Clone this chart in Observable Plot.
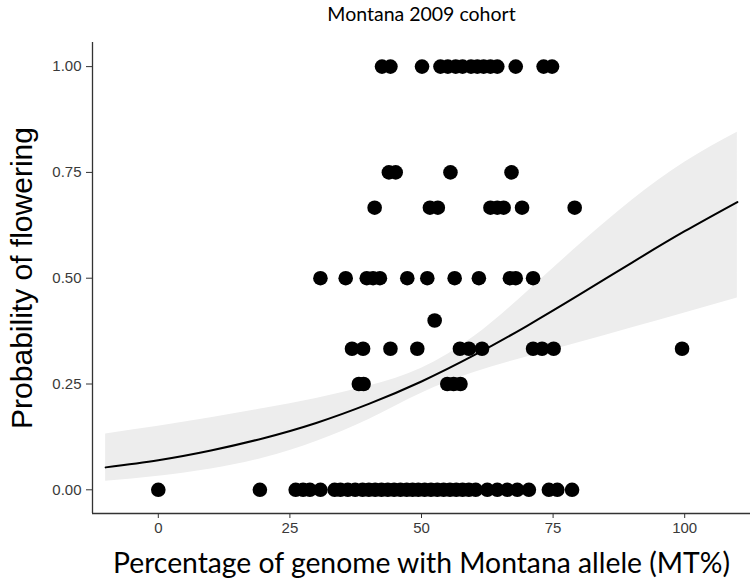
<!DOCTYPE html>
<html>
<head>
<meta charset="utf-8">
<script src="https://cdn.jsdelivr.net/npm/d3@7"></script>
<script src="https://cdn.jsdelivr.net/npm/@observablehq/plot@0.6"></script>
<style>
  body { margin: 0; background: white; }
  #chart g[aria-label$="tick label"], #chart g[aria-label$="tick label"] text { font-size: 15px !important; }
</style>
</head>
<body>
<div id="chart"></div>
<script>
// Observed points: x = MT% for each probability level
const row100 = [42.5, 44.1, 50.1, 53.6, 55.0, 56.5, 57.8, 59.4, 60.6, 61.8, 63.1, 64.4, 67.9, 73.2, 74.8];
const row075 = [43.8, 45.1, 55.5, 67.1];
const row067 = [41.1, 51.6, 53.1, 63.1, 64.4, 65.6, 69.1, 79.1];
const row050 = [30.8, 35.6, 39.6, 40.8, 42.1, 47.3, 51.1, 56.3, 60.9, 66.8, 67.9, 71.2];
const row040 = [52.5];
const row033 = [36.8, 38.9, 44.1, 49.2, 57.3, 59.0, 61.5, 71.2, 72.9, 75.1, 99.5];
const row025 = [38.1, 39.0, 54.9, 56.1, 57.4];
const row000 = [0, 19.3, 26.1, 27.5, 28.8, 30.8, 33.5, 34.6, 36.0, 37.4, 38.8, 40.0, 41.2, 42.4, 43.6, 44.8, 46.0, 47.2, 48.3, 49.4, 50.6, 51.8, 53.0, 54.2, 55.4, 56.6, 57.8, 59.0, 60.3, 62.5, 64.4, 66.3, 68.2, 70.4, 74.2, 75.8, 78.6];

// Fitted curve and confidence band
const curveX = [-10, 0, 10, 20, 30, 40, 50, 60, 70, 80, 90, 100, 110];
const fitP   = [0.053, 0.070, 0.093, 0.122, 0.158, 0.203, 0.256, 0.318, 0.387, 0.461, 0.537, 0.611, 0.680];
const lowerP = [0.020, 0.032, 0.049, 0.075, 0.114, 0.166, 0.228, 0.277, 0.314, 0.348, 0.383, 0.418, 0.453];
const upperP = [0.132, 0.150, 0.170, 0.192, 0.216, 0.245, 0.287, 0.362, 0.467, 0.579, 0.684, 0.774, 0.845];

const xTicks = [0, 25, 50, 75, 100];
const yTicks = [0, 0.25, 0.5, 0.75, 1];

const rows = [[1, row100], [0.75, row075], [2/3, row067], [0.5, row050], [0.4, row040], [1/3, row033], [0.25, row025], [0, row000]];
const points = rows.flatMap(([p, xs]) => xs.map(x => ({x, p})));
const band = curveX.map((x, i) => ({x, fit: fitP[i], lo: lowerP[i], hi: upperP[i]}));

const xDom = [-12.5, 112.5];
const yDom = [-0.056, 1.057];

const chart = Plot.plot({
  width: 750,
  height: 582,
  marginLeft: 92,
  marginRight: 0,
  marginTop: 42,
  marginBottom: 69,
  x: {domain: xDom},
  y: {domain: yDom},
  style: {fontFamily: "'Liberation Sans', Arial, sans-serif", fontSize: "15px", color: "#333", background: "white"},
  marks: [
    Plot.areaY(band, {x: "x", y1: "lo", y2: "hi", fill: "#ededed", curve: "natural"}),
    Plot.line(band, {x: "x", y: "fit", stroke: "black", strokeWidth: 2, curve: "natural"}),
    Plot.dot(points, {x: "x", y: "p", r: 7.3, fill: "black", stroke: "none"}),
    Plot.ruleY([yDom[0]], {stroke: "#333", strokeWidth: 1.3}),
    Plot.ruleX([xDom[0]], {stroke: "#333", strokeWidth: 1.3}),
    Plot.axisX({ticks: xTicks, tickSize: 5, tickPadding: 4, label: null, tickFormat: d => String(d), stroke: "#333", fill: "#3a3a3a", fontSize: 15}),
    Plot.axisY({ticks: yTicks, tickSize: 6, tickPadding: 5, label: null, tickFormat: d => d.toFixed(2), stroke: "#333", fill: "#3a3a3a", fontSize: 15}),
    Plot.text(["Montana 2009 cohort"], {frameAnchor: "top", dy: -28, lineAnchor: "middle", textAnchor: "middle", fontSize: 19.5, fontFamily: "Lato, 'Open Sans', sans-serif", fill: "black"}),
    Plot.text(["Percentage of genome with Montana allele (MT%)"], {frameAnchor: "bottom", dy: 50, lineAnchor: "middle", textAnchor: "middle", fontSize: 28.3, fontFamily: "Lato, 'Open Sans', sans-serif", fill: "black"}),
    Plot.text(["Probability of flowering"], {frameAnchor: "left", dx: -70, rotate: -90, lineAnchor: "middle", textAnchor: "middle", fontSize: 30, fontFamily: "'Liberation Sans', Arial, sans-serif", fill: "black"})
  ]
});
document.getElementById("chart").appendChild(chart);
</script>
</body>
</html>
